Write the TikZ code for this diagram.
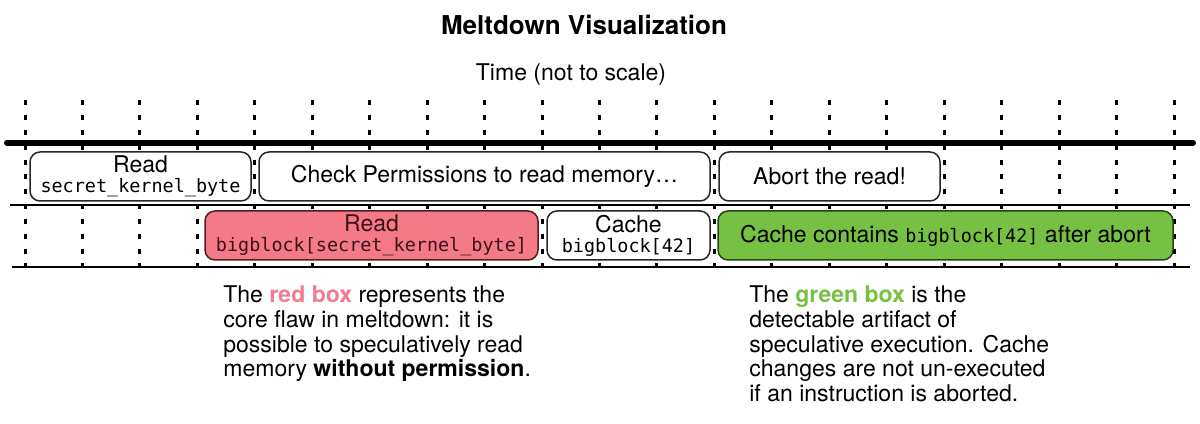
\documentclass[tikz,border=0pt]{standalone}
\usepackage{fontspec}
\setmainfont{TeX Gyre Heros}
\setmonofont{DejaVu Sans Mono}
\definecolor{flawred}{RGB}{244,122,138}
\definecolor{flawtext}{RGB}{243,123,142}
\definecolor{flawedge}{RGB}{80,30,36}
\definecolor{flawink}{RGB}{60,18,24}
\definecolor{leakgreen}{RGB}{118,192,67}
\definecolor{leakedge}{RGB}{38,66,22}
\newcommand{\code}[1]{{\fontsize{10.5}{11.4}\selectfont\ttfamily #1}}
\tikzset{
  phase/.style={draw=black!85, line width=0.03cm, rounded corners=0.2cm, fill=white,
    minimum height=0.98cm, inner sep=0pt, align=center,
    font=\fontsize{13.1}{11.4}\selectfont},
  tickline/.style={line width=0.06cm, dash pattern=on 0.1cm off 0.196cm},
  note/.style={anchor=north west, inner sep=0pt, align=left,
    font=\fontsize{13.1}{14.2}\selectfont},
}
\begin{document}
\begin{tikzpicture}
\useasboundingbox (0,0) rectangle (24,8.46);
\node[font=\fontsize{14.8}{16}\selectfont\bfseries] (title) at (11.68,7.96) {Meltdown Visualization};
\node[font=\fontsize{13.1}{14.2}\selectfont] (time) at (11.42,6.96) {Time (not to scale)};
% time ticks
\foreach \i in {0,...,20}
  \draw[tickline] (0.5+1.149*\i,6.45) -- (0.5+1.149*\i,3.09);
\draw[line width=0.12cm, line cap=round] (0.14,5.6) -- (23.86,5.6);
\draw[line width=0.03cm] (0.2,4.36) -- (23.8,4.36);
\draw[line width=0.03cm] (0.24,3.12) -- (23.8,3.12);
% first row
\node[phase, minimum width=4.42cm] (readsecret) at (2.81,4.93) {Read\\\code{secret\_kernel\_byte}};
\node[phase, minimum width=9.02cm] (check) at (9.69,4.93) {Check Permissions to read memory…};
\node[phase, minimum width=4.42cm] (abort) at (16.59,4.93) {Abort the read!};
% second row
\node[phase, minimum width=6.66cm, fill=flawred, draw=flawedge, text=flawink] (readblock) at (7.43,3.75) {Read\\\code{bigblock[secret\_kernel\_byte]}};
\node[phase, minimum width=3.26cm] (cache) at (12.57,3.75) {Cache\\\code{bigblock[42]}};
\node[phase, minimum width=9.1cm, fill=leakgreen, draw=leakedge] (contains) at (18.91,3.75) {Cache contains \code{bigblock[42]} after abort};
% notes
\node[note] (flawnote) at (4.46,2.76) {The \textcolor{flawtext}{\bfseries red box} represents the\\core flaw in meltdown: it is\\possible to speculatively read\\memory \textbf{without permission}.};
\node[note] (leaknote) at (14.98,2.76) {The \textcolor{leakgreen}{\bfseries green box} is the\\detectable artifact of\\speculative execution. Cache\\changes are not un-executed\\if an instruction is aborted.};
\end{tikzpicture}
\end{document}
